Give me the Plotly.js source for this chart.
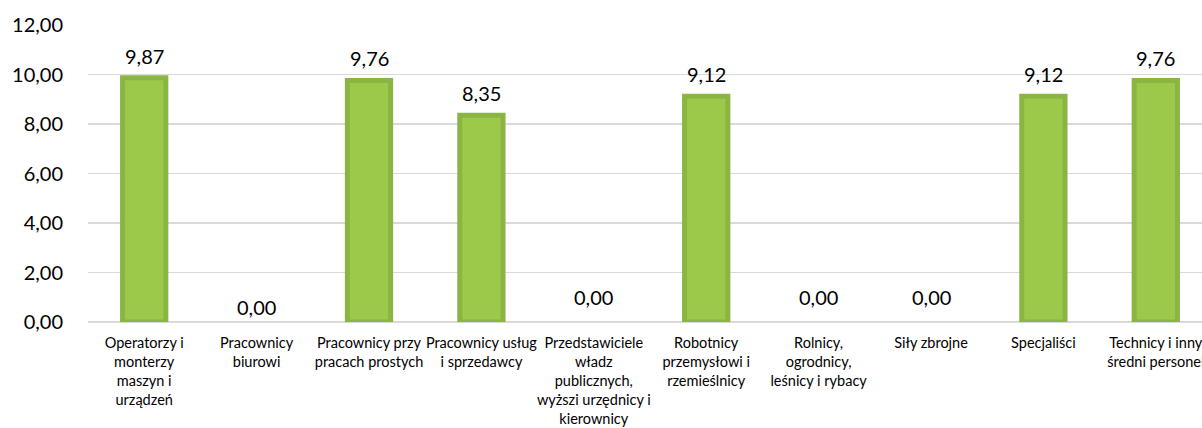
<!DOCTYPE html>
<html>
<head>
<meta charset="utf-8">
<script src="https://cdn.plot.ly/plotly-3.0.1.min.js"></script>
<style>
html,body{margin:0;padding:0;overflow:hidden;background:#fff;}
#chart{width:1222px;height:428px;}
</style>
</head>
<body>
<div id="chart"></div>
<script>
const categories = [
  "Operatorzy i<br>monterzy<br>maszyn i<br>urządzeń",
  "Pracownicy<br>biurowi",
  "Pracownicy przy<br>pracach prostych",
  "Pracownicy usług<br>i sprzedawcy",
  "Przedstawiciele<br>władz<br>publicznych,<br>wyższi urzędnicy i<br>kierownicy",
  "Robotnicy<br>przemysłowi i<br>rzemieślnicy",
  "Rolnicy,<br>ogrodnicy,<br>leśnicy i rybacy",
  "Siły zbrojne",
  "Specjaliści",
  "Technicy i inny<br>średni personel"
];
const values = [9.87, 0.00, 9.76, 8.35, 0.00, 9.12, 0.00, 0.00, 9.12, 9.76];
const yTicks = [0, 2, 4, 6, 8, 10, 12];

// label offsets (pixels above the value) – style only
const labelShift = values.map((v, i) => (v === 0 ? (i === 1 ? 15 : 25) : 22));
const borderWidths = values.map(v => (v === 0 ? 0 : 5));

const fontFam = "Lato, 'Open Sans', sans-serif";

const trace = {
  type: "bar",
  x: categories,
  y: values,
  width: 0.385,
  marker: { color: "#9DC94B", line: { color: "#8AB542", width: borderWidths } },
  hoverinfo: "x+y"
};

const annotations = values.map((v, i) => ({
  x: categories[i],
  y: v,
  xref: "x",
  yref: "y",
  text: v.toFixed(2).replace(".", ","),
  showarrow: false,
  yshift: labelShift[i],
  yanchor: "middle",
  font: { family: fontFam, size: 20, color: "#000" }
}));

const layout = {
  width: 1222,
  height: 428,
  margin: { l: 88, r: 10, t: 25, b: 106 },
  paper_bgcolor: "#fff",
  plot_bgcolor: "#fff",
  separators: ",.",
  showlegend: false,
  xaxis: {
    type: "category",
    showgrid: false,
    showline: false,
    ticks: "outside",
    ticklen: 8,
    tickcolor: "rgba(0,0,0,0)",
    tickangle: 0,
    tickfont: { family: fontFam, size: 14.5, color: "#000" },
    automargin: false
  },
  yaxis: {
    range: [0, 12],
    tickvals: yTicks,
    tickformat: ".2f",
    showgrid: true,
    gridcolor: "#D9D9D9",
    gridwidth: 1.5,
    zeroline: true,
    zerolinecolor: "#D9D9D9",
    zerolinewidth: 1.5,
    showline: false,
    ticks: "outside",
    ticklen: 20,
    tickcolor: "rgba(0,0,0,0)",
    tickfont: { family: fontFam, size: 20, color: "#000" },
    automargin: false,
    fixedrange: true
  },
  annotations: annotations
};

Plotly.newPlot("chart", [trace], layout, { displayModeBar: false, staticPlot: true });
</script>
</body>
</html>
